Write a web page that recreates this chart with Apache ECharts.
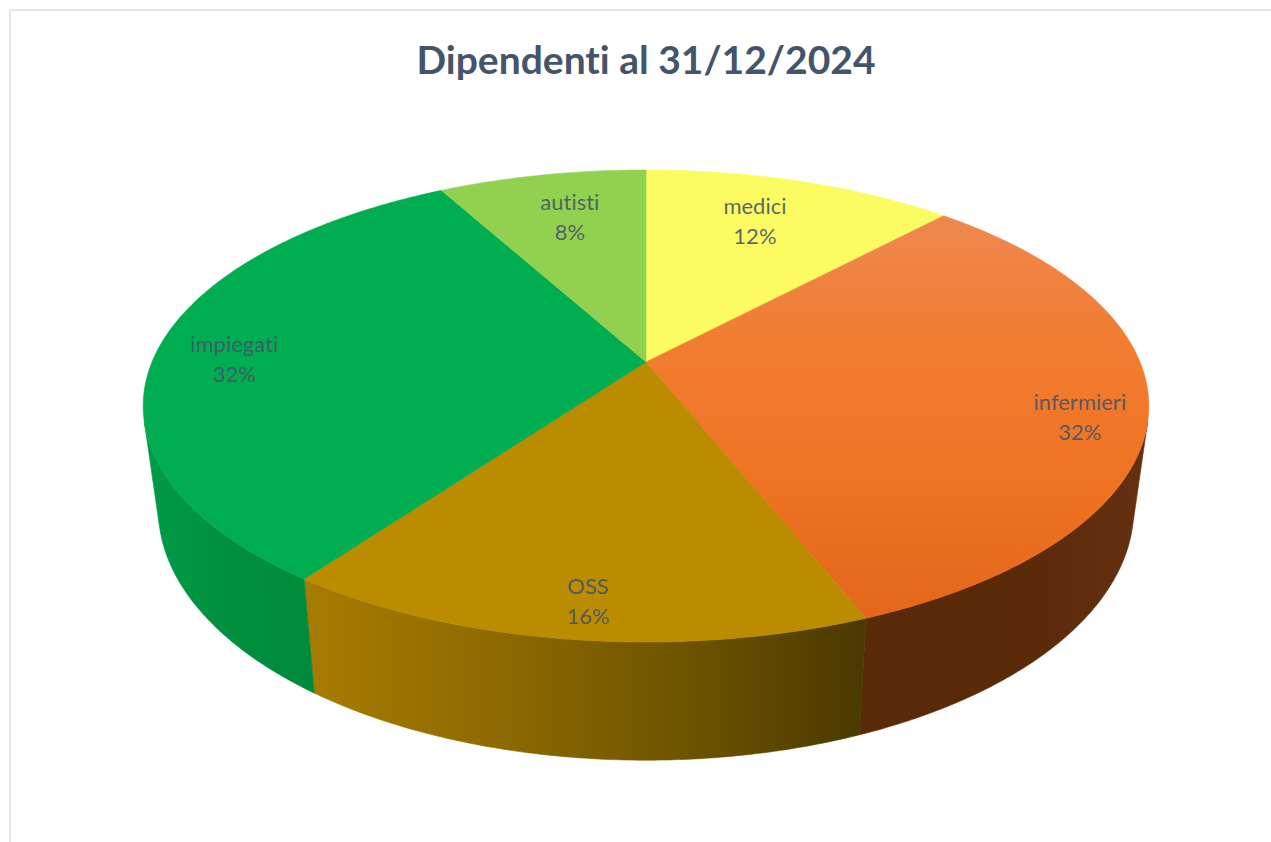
<!DOCTYPE html>
<html>
<head>
<meta charset="utf-8">
<title>Dipendenti al 31/12/2024</title>
<script src="https://cdn.jsdelivr.net/npm/echarts@6/dist/echarts.min.js"></script>
<style>
  html, body { margin: 0; padding: 0; background: #fff; overflow: hidden; }
  #chart { width: 1271px; height: 842px; }
  #chart text { font-variant-ligatures: none !important; }
</style>
</head>
<body>
<div id="chart"></div>
<script>
// dati
const titleText = 'Dipendenti al 31/12/2024';
const categories = ['medici', 'infermieri', 'OSS', 'impiegati', 'autisti'];
const percentages = [12, 32, 16, 32, 8];

// colori
const topColors = ['#FCFB62', null, '#BB8C00', '#00AD50', '#92D050'];
const orangeStops = ['#EE8850', '#F27C30', '#EF7322', '#E4661A'];
const sideStops = [
  ['#FCFB62', '#FCFB62'],
  ['#5A2908', '#5A2908', '#643010'],
  ['#A87C00', '#8F6A00', '#6F5500', '#4A3900'],
  ['#009C48', '#008F3E', '#008A3C'],
  ['#92D050', '#92D050']
];

// prospettiva del disco: centro, semiassi, fuga
const cx = 646, rx = 494, ry = 227.8, persp = 0.1864;
const upperDisc = { y0: 362, sx: 1, sy: 1 };
const lowerDisc = { y0: 462, sx: 0.97, sy: 1.065 };
// posizione etichette: raggio relativo e scarto angolare dal centro fetta
const labelRadius = [0.737, 0.872, 0.886, 0.835, 0.7375];
const labelShift = [-1.85, 4.8, -0.85, -3, 0.7];

const total = percentages.reduce((a, b) => a + b, 0);
const startAngles = [];
percentages.reduce((sum, v, i) => {
  startAngles[i] = sum / total * 360;
  return sum + v;
}, 0);

function project(angle, r, disc) {
  const t = angle * Math.PI / 180;
  const u = Math.sin(t) * r, v = Math.cos(t) * r;
  const w = 1 + persp * v;
  return [cx + disc.sx * rx * u / w, disc.y0 - disc.sy * ry * v / w];
}

function angleSteps(from, to) {
  const out = [];
  const n = Math.max(2, Math.ceil((to - from) * 2));
  for (let i = 0; i <= n; i++) out.push(from + (to - from) * i / n);
  return out;
}

function stops(colors) {
  return colors.map((c, i) => ({ offset: i / (colors.length - 1), color: c }));
}

function sliceRange(i) {
  return [startAngles[i], startAngles[i] + percentages[i] / total * 360];
}

// la parete si vede solo dove il bordo superiore gira verso chi guarda
function isFront(angle) {
  const p = project(angle, 1, upperDisc);
  const q = project(angle + 0.1, 1, upperDisc);
  const d = project(angle, 1, lowerDisc);
  return (q[0] - p[0]) * (d[1] - p[1]) - (q[1] - p[1]) * (d[0] - p[0]) < 0;
}

function renderSide(params) {
  const i = params.dataIndex;
  const [a, b] = sliceRange(i);
  const angles = angleSteps(a, b).filter(isFront);
  if (angles.length < 2) return null;
  const upper = angles.map(t => project(t, 1, upperDisc));
  const lower = angles.map(t => project(t, 1, lowerDisc)).reverse();
  const pts = upper.concat(lower);
  const xs = pts.map(p => p[0]);
  const fill = new echarts.graphic.LinearGradient(
    Math.min.apply(null, xs), 0, Math.max.apply(null, xs), 0, stops(sideStops[i]), true);
  return {
    type: 'polygon',
    shape: { points: pts },
    style: { fill: fill, stroke: fill, lineWidth: 0.6 }
  };
}

function renderTop(params) {
  const i = params.dataIndex;
  const [a, b] = sliceRange(i);
  const pts = [project(0, 0, upperDisc)].concat(angleSteps(a, b).map(t => project(t, 1, upperDisc)));
  const fill = topColors[i] ||
    new echarts.graphic.LinearGradient(0, 215, 0, 620, stops(orangeStops), true);
  return {
    type: 'polygon',
    shape: { points: pts },
    style: { fill: fill, stroke: fill, lineWidth: 0.6 }
  };
}

function renderLabel(params, api) {
  const i = params.dataIndex;
  const [a, b] = sliceRange(i);
  const p = project((a + b) / 2 + labelShift[i], labelRadius[i], upperDisc);
  return {
    type: 'text',
    style: {
      x: p[0],
      y: p[1] - 1.5,
      text: categories[i] + '\n' + api.value(0) + '%',
      align: 'center',
      verticalAlign: 'middle',
      fontFamily: 'Lato',
      fontSize: 22,
      lineHeight: 30,
      fill: 'rgba(68,84,106,0.88)'
    }
  };
}

const seriesData = percentages.map((v, i) => ({ name: categories[i], value: v }));

const chart = echarts.init(document.getElementById('chart'), null, { renderer: 'svg' });
chart.setOption({
  animation: false,
  backgroundColor: '#ffffff',
  title: {
    text: titleText,
    left: 641,
    top: 34,
    textAlign: 'center',
    textStyle: { fontFamily: 'Lato', fontSize: 39, fontWeight: 'bold', color: '#44546A' }
  },
  graphic: [{
    type: 'rect',
    silent: true,
    shape: { x: 10, y: 10, width: 1400, height: 1000 },
    style: { fill: 'none', stroke: '#E6E6EE', lineWidth: 2 }
  }],
  series: [
    { type: 'custom', name: 'lati', coordinateSystem: 'none', z: 2, silent: true, renderItem: renderSide, data: seriesData },
    { type: 'custom', name: 'fette', coordinateSystem: 'none', z: 3, silent: true, renderItem: renderTop, data: seriesData },
    { type: 'custom', name: 'etichette', coordinateSystem: 'none', z: 4, silent: true, renderItem: renderLabel, data: seriesData }
  ]
});
</script>
</body>
</html>
